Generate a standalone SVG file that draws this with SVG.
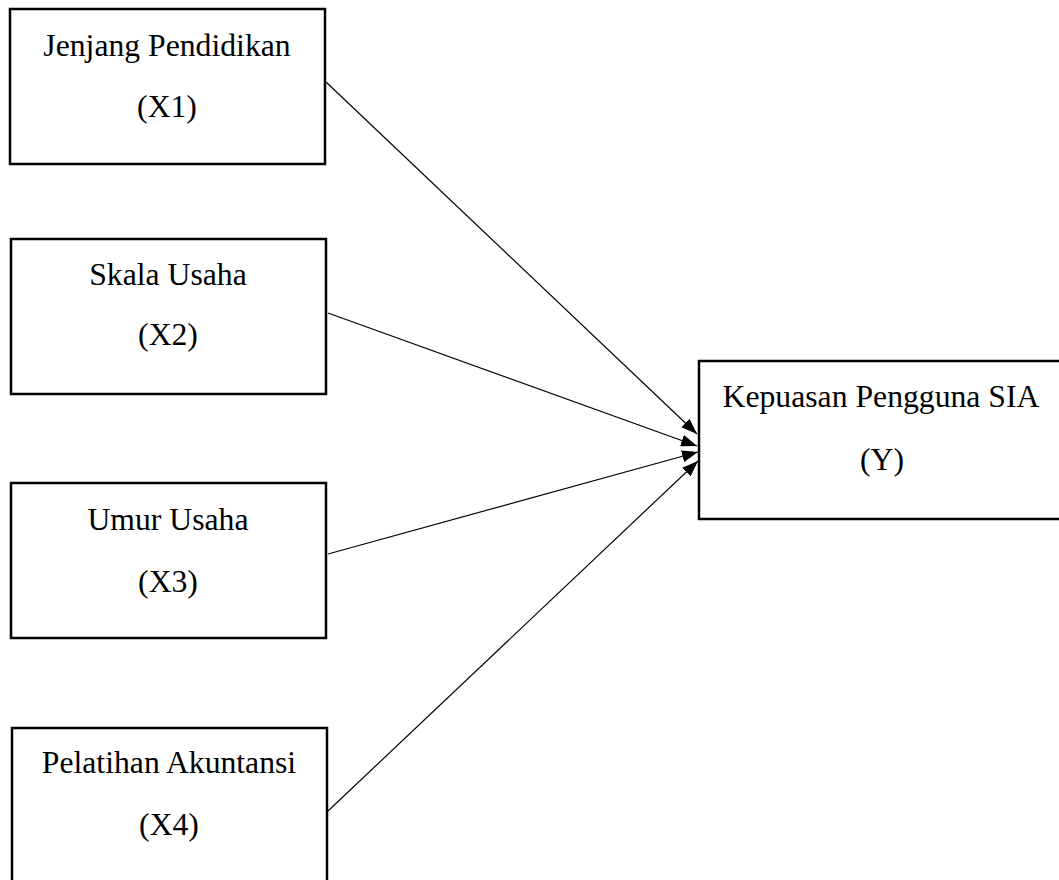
<svg xmlns="http://www.w3.org/2000/svg" width="1059" height="880" viewBox="0 0 1059 880">
<style>
.box{fill:#fff;stroke:#000;stroke-width:2.5}
.t{font-family:"Liberation Serif","Times New Roman",serif;font-size:31.7px;fill:#000;text-anchor:middle}
.c{stroke:#000;stroke-width:1.2;fill:none;marker-end:url(#ah)}
</style>
<defs>
<marker id="ah" markerUnits="userSpaceOnUse" markerWidth="17" markerHeight="12" refX="16" refY="6" orient="auto">
<path d="M0,0 L16,6 L0,12 Z" fill="#000"/>
</marker>
</defs>
<rect width="1059" height="880" fill="#fff"/>
<g id="x1">
<rect class="box" x="10" y="9" width="315" height="155"/>
<text class="t" x="167" y="56">Jenjang Pendidikan</text>
<text class="t" x="167" y="117">(X1)</text>
</g>
<g id="x2">
<rect class="box" x="11" y="239" width="315" height="155"/>
<text class="t" x="168" y="285">Skala Usaha</text>
<text class="t" x="168" y="345">(X2)</text>
</g>
<g id="x3">
<rect class="box" x="11" y="483" width="315" height="155"/>
<text class="t" x="168" y="530">Umur Usaha</text>
<text class="t" x="168" y="592">(X3)</text>
</g>
<g id="x4">
<rect class="box" x="12" y="728" width="315" height="200"/>
<text class="t" x="169" y="773">Pelatihan Akuntansi</text>
<text class="t" x="169" y="835">(X4)</text>
</g>
<g id="y">
<rect class="box" x="699" y="361" width="366" height="158"/>
<text class="t" x="881" y="407">Kepuasan Pengguna SIA</text>
<text class="t" x="882" y="470">(Y)</text>
</g>
<g id="connectors">
<line class="c" x1="326" y1="82" x2="697" y2="434"/>
<line class="c" x1="328" y1="313" x2="697" y2="446"/>
<line class="c" x1="328" y1="554" x2="698" y2="452"/>
<line class="c" x1="328" y1="811" x2="698" y2="461"/>
</g>
</svg>
